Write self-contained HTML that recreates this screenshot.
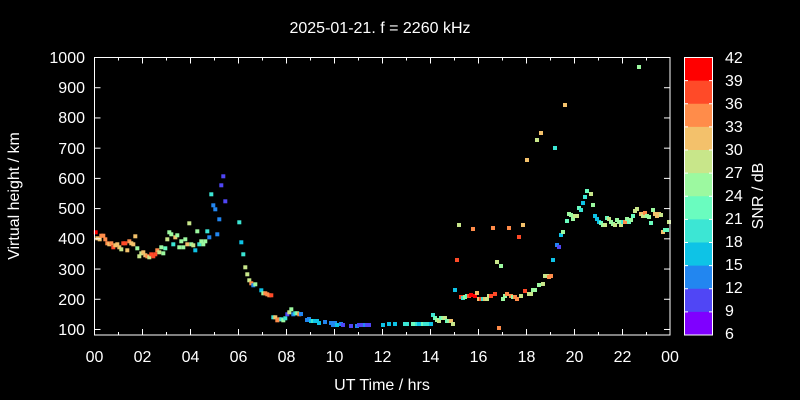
<!DOCTYPE html>
<html><head><meta charset="utf-8"><style>
html,body{margin:0;padding:0;background:#000;}
svg{display:block;font-family:"Liberation Sans",Arial,sans-serif;}
</style></head><body>
<svg id="s" width="800" height="400" viewBox="0 0 800 400" xmlns="http://www.w3.org/2000/svg">
<rect width="800" height="400" fill="#000"/>
<text x="380" y="33" fill="#fff" font-size="16" text-anchor="middle">2025-01-21. f = 2260 kHz</text>
<g id="pts"></g>
<rect x="94.5" y="57.5" width="575.5" height="277.5" fill="none" stroke="#fff" stroke-width="1"/>
<g id="ticks" stroke="#fff" stroke-width="1"></g>
<g fill="#fff" font-size="16" text-anchor="end">
<text x="85" y="63">1000</text><text x="85" y="93">900</text><text x="85" y="123">800</text><text x="85" y="154">700</text><text x="85" y="184">600</text><text x="85" y="214">500</text><text x="85" y="244">400</text><text x="85" y="275">300</text><text x="85" y="305">200</text><text x="85" y="335">100</text>
</g>
<g fill="#fff" font-size="16" text-anchor="middle">
<text x="94.5" y="362">00</text><text x="142.5" y="362">02</text><text x="190.5" y="362">04</text><text x="238.5" y="362">06</text><text x="286.5" y="362">08</text><text x="334.5" y="362">10</text><text x="382.5" y="362">12</text><text x="430.5" y="362">14</text><text x="478.5" y="362">16</text><text x="526.5" y="362">18</text><text x="574.5" y="362">20</text><text x="622.5" y="362">22</text><text x="670" y="362">00</text>
<text x="382" y="390">UT Time / hrs</text>
<text transform="translate(19,196) rotate(-90)">Virtual height / km</text>
<text transform="translate(763,196) rotate(-90)">SNR / dB</text>
</g>
<g id="cb"></g>
<g fill="#fff" font-size="16" text-anchor="start">
<text x="725" y="63">42</text><text x="725" y="86">39</text><text x="725" y="109">36</text><text x="725" y="132">33</text><text x="725" y="155">30</text><text x="725" y="178">27</text><text x="725" y="201">24</text><text x="725" y="224">21</text><text x="725" y="247">18</text><text x="725" y="270">15</text><text x="725" y="293">12</text><text x="725" y="316">9</text><text x="725" y="339">6</text>
</g>
</svg>
<script>
var C={R:"#ff0000",r:"#ff4a28",o:"#ff8c4a",y:"#f3c16b",l:"#c8e68a",g:"#9cf9a0",m:"#6afcbf",t:"#3ce6d4",c:"#0ec3e6",b:"#2286f0",i:"#5046f5",v:"#7f00ff"};
var d="95.7,232.3,R 97.3,238.3,y 99.7,239.3,y 101.3,235.7,o 103.3,235.7,o 105.3,239.3,o 107.3,243.3,o 109.3,244.3,y 111.3,243.3,o 113.3,247.3,r 115.3,245.3,y 117.3,244.3,y 119.3,247.3,y 121.3,249.3,l 123.3,243.3,r 125.3,243.3,r 127.3,250.3,y 129.3,241.3,o 131.3,243.3,y 133.3,244.3,y 135.3,236.3,y 137.3,248.3,g 139.3,256.3,l 141.3,253.3,l 143.3,252.3,y 145.3,255.3,y 147.3,256.3,o 149.3,257.3,l 151.3,254.3,r 153.3,256.3,r 155.3,254.3,r 157.3,250.3,o 159.3,252.3,l 161.3,247.3,g 163.3,253.3,g 165.3,248.3,m 167.3,239.3,l 169.3,232.3,g 171.3,234.3,g 173.3,244.3,t 175.3,237.3,y 177.3,235.3,g 179.3,247.3,g 181.3,241.3,g 183.3,247.3,g 185.3,239.3,g 187.3,244.3,y 189.3,223.3,l 191.3,244.3,g 193.3,245.3,l 195.3,250.3,c 197.3,231.3,g 199.3,244.3,t 201.3,241.3,g 203.3,244.3,g 205.3,241.3,g 207.3,231.3,t 209.3,237.3,b 211.3,194.3,t 213.3,205.3,b 215.3,209.3,b 217.3,234.3,b 219.3,219.3,b 221.3,185.3,i 223.3,176.3,i 225.3,201.3,i 239.3,222.3,t 241.3,242.3,c 243.3,254.3,t 245.3,267.3,l 247.3,274.3,l 249.3,280.3,l 251.3,283.3,o 253.3,285.3,b 255.3,284.3,g 261.3,290.3,c 263.3,293.3,g 265.3,293.3,o 267.3,294.3,o 269.3,295.3,o 271.3,295.3,r 273.3,317.3,t 275.3,317.3,y 277.3,320.3,o 279.3,319.3,o 281.3,319.3,t 283.3,320.3,g 285.3,318.3,t 287.3,314.3,i 289.3,312.3,l 291.3,309.3,g 293.3,314.3,b 295.3,313.3,t 297.3,313.3,g 299.3,314.3,o 301,314,b 307,320,b 309,319,b 311,321,c 313,321,t 315,321,c 317,321,c 319,323,c 325,322,b 331,323,b 333,325,b 335,323,b 337,325,c 341,324,b 343,325,i 351,326,i 357,326,b 359,325,i 361,325,i 365,325,b 367,325,i 369,325,i 383,325,c 389,324,c 395,324,c 405,324,t 407,324,t 413,324,m 415,324,m 417,324,t 419,324,c 421,324,c 423,324,m 425,324,t 427,324,t 431,324,c 433,315,t 435,318,m 437,320,g 439,321,l 441,318,m 443,318,g 445,318,l 447,321,m 449,321,g 451,321,y 453,324,l 455,290,c 457,260,r 459,225,l 461,297,r 463,298,t 465,297,g 467,296,m 469,296,r 471,295,R 473,229,o 475,296,R 477,293,y 479,299,y 481,299,r 483,299,t 485,299,y 487,299,l 489,296,l 491,296,r 493,228,o 495,294,r 497,262,l 499,328,o 501,266,g 503,299,g 505,296,g 507,294,o 509,228,o 511,296,o 513,297,g 515,297,o 517,299,o 519,237,r 521,296,l 523,225,y 525,291,r 527,160,y 529,294,l 531,294,l 533,290,g 535,290,g 537,140,l 539,285,g 541,133,y 543,284,l 545,276,l 547,276,l 549,277,o 551,276,o 553,260,c 555,148,t 557,245,b 559,247,i 561,235,c 563,232,g 565,105,y 567,221,m 569,214,g 571,215,g 573,219,g 575,216,l 577,216,l 579,208,m 581,210,t 583,203,c 585,197,t 587,191,m 591,194,l 593,205,g 595,216,c 597,219,c 599,222,c 601,223,m 603,225,g 605,225,l 607,218,m 609,219,l 611,222,g 613,224,g 615,225,l 617,220,g 619,222,g 621,225,l 623,222,t 625,222,o 627,219,g 629,222,m 631,220,g 633,216,m 635,211,l 637,209,l 639,67,g 641,214,y 643,216,l 645,213,o 647,216,g 649,217,g 651,223,m 653,210,g 655,214,y 657,216,y 659,214,y 661,215,l 663,232,y 665,230,m 667,230,m 669,222,l";
var g=document.getElementById("pts"),h="";
d.split(" ").forEach(function(p){var a=p.split(",");h+='<rect x="'+(+a[0]-2)+'" y="'+(+a[1]-2)+'" width="4" height="4" fill="'+C[a[2]]+'"/>';});
g.innerHTML=h;
var t="",L=94.5,R=670,T=57.5,B=335;
for(var k=0;k<=24;k++){var x=L+k*24;if(k==24)x=R;var l=(k%2==0)?6:3;t+='<line x1="'+x+'" y1="'+B+'" x2="'+x+'" y2="'+(B-l)+'"/><line x1="'+x+'" y1="'+T+'" x2="'+x+'" y2="'+(T+l)+'"/>';}
for(var v=100;v<=1000;v+=100){var y=57.5+(1000-v)*0.3022;var l=6;t+='<line x1="'+L+'" y1="'+y+'" x2="'+(L+l)+'" y2="'+y+'"/><line x1="'+R+'" y1="'+y+'" x2="'+(R-l)+'" y2="'+y+'"/>';}
document.getElementById("ticks").innerHTML=t;
var cols=["#ff0000","#ff4a28","#ff8c4a","#f3c16b","#c8e68a","#9cf9a0","#6afcbf","#3ce6d4","#0ec3e6","#2286f0","#5046f5","#7f00ff"],c="";
var bh=(335-57.5)/12;
for(var i=0;i<12;i++){c+='<rect x="684.5" y="'+(57.5+i*bh)+'" width="28" height="'+(bh+0.5)+'" fill="'+cols[i]+'"/>';}
for(var i=1;i<12;i++){var y=57.5+i*bh;c+='<line x1="684.5" y1="'+y+'" x2="688" y2="'+y+'" stroke="#fff"/><line x1="712.5" y1="'+y+'" x2="709" y2="'+y+'" stroke="#fff"/>';}
c+='<rect x="684.5" y="57.5" width="28" height="277.5" fill="none" stroke="#fff"/>';
document.getElementById("cb").innerHTML=c;
</script>
</body></html>
